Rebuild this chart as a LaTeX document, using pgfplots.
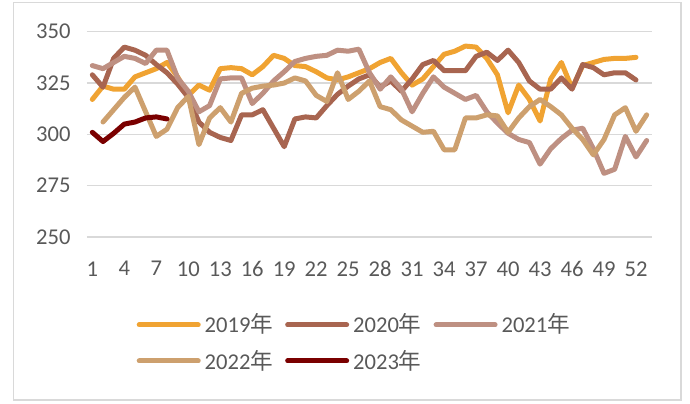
\documentclass[border=0pt]{standalone}
\usepackage{fontspec}
\setmainfont{Carlito}
\newfontfamily\cjk{Noto Sans CJK SC}
\usepackage{pgfplots}
\usepackage{pgfplotstable}
\pgfplotsset{compat=1.18}
\definecolor{c19}{RGB}{240,163,50}
\definecolor{c20}{RGB}{168,101,80}
\definecolor{c21}{RGB}{190,144,130}
\definecolor{c22}{RGB}{205,160,110}
\definecolor{c23}{RGB}{122,0,0}
\definecolor{gridgray}{RGB}{217,217,217}
\definecolor{labelgray}{RGB}{89,89,89}
\pgfplotstableread{
w O B R T D
1 317 329 333.5 nan 301
2 323.5 323 332 306 296.5
3 322 337 335 312 300.5
4 322 342.5 338 318 305
5 328 341 337 323 306
6 330 338.5 334.5 311 308
7 332 334 341 299 308.5
8 335 330 341 302.5 307.5
9 328 324.5 327.5 313 nan
10 319 318 321 318.5 nan
11 324 306 311 295 nan
12 321.5 301 314 308 nan
13 332 298.5 327 313 nan
14 332.5 297 327.5 306 nan
15 332 309.5 327.5 320 nan
16 329 309.5 315 322.5 nan
17 333 312 320 323.5 nan
18 338.5 303 326 324 nan
19 337 294 330.5 325 nan
20 333.5 307.5 335.5 327.5 nan
21 333 308.5 337 326 nan
22 330.5 308 338 319 nan
23 327.5 314 338.5 316 nan
24 326.5 319.5 341 330 nan
25 328 323.5 340.5 317 nan
26 330 327 341.5 321 nan
27 332 329 330 326 nan
28 335 323 322 313.5 nan
29 337 326 328 312 nan
30 330 321 322 307 nan
31 324 327 311 304 nan
32 327 334 320 301 nan
33 333 336 328 301.5 nan
34 339 331 323 292.5 nan
35 340.5 331 320 292.5 nan
36 343 331 317 308 nan
37 342.5 338 319 308 nan
38 337 340 311 309.5 nan
39 329 336 305.5 309 nan
40 310.5 341 300.5 301 nan
41 324 335 297.5 308 nan
42 317 326 296 313.5 nan
43 306.5 322 285.5 317 nan
44 327 322 293 313.5 nan
45 335 327.5 298 309.5 nan
46 322.5 322 302 303 nan
47 333.5 334 303 297.5 nan
48 335 332.5 293 290 nan
49 336.5 329 281 297.5 nan
50 337 330 283 309.5 nan
51 337 330 299 313 nan
52 337.5 326.5 289 301.5 nan
53 nan nan 297 309.5 nan
}\datatable
\begin{document}
\begin{tikzpicture}
\path[use as bounding box] (0pt,0pt) rectangle (345pt,201.5pt);
\draw[gridgray, line width=0.6pt] (6.75pt,1.5pt) rectangle (340.5pt,200.2pt);
\begin{axis}[
  at={(43.5pt,83pt)}, anchor=south west,
  scale only axis, width=282.5pt, height=102.65pt,
  xmin=0.5, xmax=53.5, ymin=250, ymax=350,
  xtick={1,4,...,52}, ytick={250,275,...,350},
  ymajorgrids, grid style={gridgray, line width=0.75pt},
  axis line style={draw=none}, major tick length=0pt,
  /pgf/number format/assume math mode=true,
  tick label style={font=\fontsize{11.3}{13}\selectfont, text=labelgray},
  xticklabel style={yshift=-8.7pt},
  yticklabel style={xshift=-4.7pt},
  legend columns=3,
  legend cell align=left,
  legend style={at={(0.475,-0.516)}, anchor=center, draw=none, fill=none,
    font=\fontsize{11.3}{13}\selectfont, text=labelgray,
    nodes={inner xsep=2pt, inner ysep=3.5pt},
    /tikz/every even column/.append style={column sep=4pt}},
  legend image code/.code={\draw[#1] (0pt,0pt) -- (29.5pt,0pt);},
  every axis plot/.append style={line width=2.5pt, line join=round, line cap=round, no markers},
  unbounded coords=jump,
]
\addplot[c19] table[x=w,y=O]{\datatable};
\addlegendentry{2019{\cjk 年}}
\addplot[c20] table[x=w,y=B]{\datatable};
\addlegendentry{2020{\cjk 年}}
\addplot[c21] table[x=w,y=R]{\datatable};
\addlegendentry{2021{\cjk 年}}
\addplot[c22] table[x=w,y=T]{\datatable};
\addlegendentry{2022{\cjk 年}}
\addplot[c23] table[x=w,y=D]{\datatable};
\addlegendentry{2023{\cjk 年}}
\end{axis}
\end{tikzpicture}
\end{document}
